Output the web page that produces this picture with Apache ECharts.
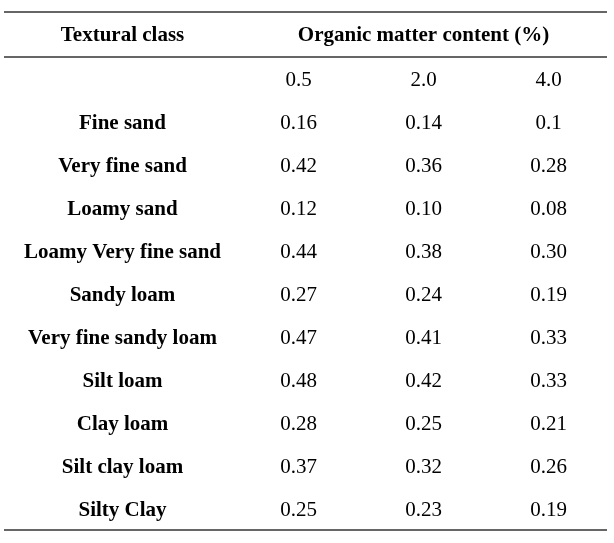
<!DOCTYPE html>
<html>
<head>
<meta charset="utf-8">
<title>Organic matter content by textural class</title>
<script src="https://cdn.jsdelivr.net/npm/echarts@6/dist/echarts.min.js"></script>
<style>
html, body { margin: 0; padding: 0; background: #fff; }
#main { width: 614px; height: 543px; }
</style>
</head>
<body>
<div id="main"></div>
<script>
// table data
var headClass = 'Textural class';
var headOm = 'Organic matter content (%)';
var omLevels = ['0.5', '2.0', '4.0'];
var classes = ['Fine sand', 'Very fine sand', 'Loamy sand', 'Loamy Very fine sand', 'Sandy loam',
	'Very fine sandy loam', 'Silt loam', 'Clay loam', 'Silt clay loam', 'Silty Clay'];
var om05 = ['0.16', '0.42', '0.12', '0.44', '0.27', '0.47', '0.48', '0.28', '0.37', '0.25'];
var om20 = ['0.14', '0.36', '0.10', '0.38', '0.24', '0.41', '0.42', '0.25', '0.32', '0.23'];
var om40 = ['0.1', '0.28', '0.08', '0.30', '0.19', '0.33', '0.33', '0.21', '0.26', '0.19'];

var myChart = echarts.init(document.getElementById('main'));

var font = "'Liberation Serif', 'Times New Roman', serif";
var ink = '#000';
// rows: heading (a touch above 0), 1 = organic matter levels, 2.. = classes
var headRow = -0.035;
var rowMin = -0.593, rowMax = 11.453;
// rules: top, under heading, bottom
var rules = [rowMin, 0.453, rowMax];
var pad = 0.232; // extra room so the outer rules are not on the grid edge

function yAx(idx, lo, hi) {
	return { gridIndex: idx, type: 'value', inverse: true, min: lo, max: hi, show: false };
}

function textSeries(name, xIdx, data, bold) {
	return {
		name: name,
		type: 'scatter',
		xAxisIndex: xIdx,
		yAxisIndex: xIdx,
		symbolSize: 1,
		itemStyle: { color: 'rgba(255,255,255,0)', opacity: 1 },
		silent: true,
		data: data,
		label: {
			show: true,
			position: 'inside',
			color: ink,
			opacity: 1,
			textBorderWidth: 0,
			fontFamily: font,
			fontSize: 21,
			fontWeight: bold ? 'bold' : 'normal',
			formatter: function (p) { return p.value[2]; }
		}
	};
}

var classCells = [[headClass, headRow, headClass]];
classes.forEach(function (c, i) { classCells.push([headClass, i + 2, c]); });

var levelCells = omLevels.map(function (lv) { return [lv, 1, lv]; });

function colCells(level, vals) {
	return vals.map(function (v, i) { return [level, i + 2, v]; });
}

var option = {
	backgroundColor: '#fff',
	animation: false,
	grid: [
		{ left: 0, width: 245, top: 12, bottom: 13 },
		{ left: 236, right: 3, top: 12, bottom: 13 },
		{ left: 4, right: 7, top: 2, bottom: 3 }
	],
	xAxis: [
		{ gridIndex: 0, type: 'category', data: [headClass], show: false },
		{ gridIndex: 1, type: 'category', data: omLevels, show: false },
		{ gridIndex: 2, type: 'value', min: 0, max: 1, show: false }
	],
	yAxis: [yAx(0, rowMin, rowMax), yAx(1, rowMin, rowMax), yAx(2, rowMin - pad, rowMax + pad)],
	series: [
		textSeries('class', 0, classCells, true),
		textSeries('heading', 1, [[omLevels[1], headRow, headOm]], true),
		textSeries('levels', 1, levelCells, false),
		textSeries(omLevels[0], 1, colCells(omLevels[0], om05), false),
		textSeries(omLevels[1], 1, colCells(omLevels[1], om20), false),
		textSeries(omLevels[2], 1, colCells(omLevels[2], om40), false),
		{
			name: 'rules',
			type: 'line',
			xAxisIndex: 2,
			yAxisIndex: 2,
			data: [],
			markLine: {
				silent: true,
				symbol: 'none',
				label: { show: false },
				lineStyle: { color: '#333', width: 1.6, type: 'solid', opacity: 1 },
				data: rules.map(function (r) { return { yAxis: r }; })
			}
		}
	]
};

myChart.setOption(option);
</script>
</body>
</html>
